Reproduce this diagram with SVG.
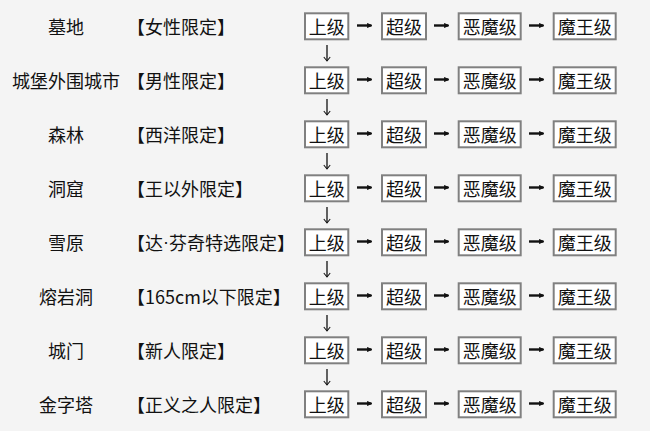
<svg xmlns="http://www.w3.org/2000/svg" width="650" height="431" viewBox="0 0 650 431">
<defs>
<style>
text{font-family:"Noto Sans CJK SC","Noto Sans",sans-serif;font-size:18px;fill:#111;dominant-baseline:central}
.c{text-anchor:middle}
.s{text-anchor:start}
.dot{font-family:"Liberation Sans",sans-serif}
.b{fill:#fff;stroke:#808080;stroke-width:2}
.a{stroke:#111;stroke-width:2.4;fill:none}
.d{stroke:#111;stroke-width:1.3;fill:none}
</style>
<marker id="ah" viewBox="0 0 6 6" refX="5" refY="3" markerWidth="2.2" markerHeight="2.2" markerUnits="strokeWidth" orient="auto"><path d="M0,0L6,3L0,6z" fill="#111"/></marker>
<marker id="dh" viewBox="0 0 10 10" refX="5" refY="9" markerWidth="8" markerHeight="8" markerUnits="userSpaceOnUse" orient="0"><path d="M1,4L5,9L9,4" fill="none" stroke="#111" stroke-width="1.3"/></marker>
<g id="chain">
<rect class="b" x="305" y="13.3" width="43.3" height="26"/>
<text class="c" x="326.7" y="26">上级</text>
<rect class="b" x="382" y="13.3" width="44" height="26"/>
<text class="c" x="404" y="26">超级</text>
<rect class="b" x="458.7" y="13.3" width="62" height="26"/>
<text class="c" x="489.7" y="26">恶魔级</text>
<rect class="b" x="553.7" y="13.3" width="62" height="26"/>
<text class="c" x="584.7" y="26">魔王级</text>
</g>
<g id="arrows">
<path class="a" d="M357,25.5H371.5" marker-end="url(#ah)"/>
<path class="a" d="M434,25.5H448.5" marker-end="url(#ah)"/>
<path class="a" d="M529,25.5H543.5" marker-end="url(#ah)"/>
</g>
<path id="down" class="d" d="M327,45V61" marker-end="url(#dh)"/>
</defs>
<rect width="650" height="431" fill="#f4f4f4"/>
<g id="row1"><text class="c" x="66" y="26">墓地</text><text class="s" x="127" y="26">【女性限定】</text><use href="#chain"/></g>
<g id="row2" transform="translate(0,54)"><text class="c" x="66" y="26">城堡外围城市</text><text class="s" x="127" y="26">【男性限定】</text><use href="#chain"/></g>
<g id="row3" transform="translate(0,108)"><text class="c" x="66" y="26">森林</text><text class="s" x="127" y="26">【西洋限定】</text><use href="#chain"/></g>
<g id="row4" transform="translate(0,162)"><text class="c" x="66" y="26">洞窟</text><text class="s" x="127" y="26">【王以外限定】</text><use href="#chain"/></g>
<g id="row5" transform="translate(0,216)"><text class="c" x="66" y="26">雪原</text><text class="s" x="127" y="26">【达<tspan class="dot">·</tspan>芬奇特选限定】</text><use href="#chain"/></g>
<g id="row6" transform="translate(0,270)"><text class="c" x="66" y="26">熔岩洞</text><text class="s" x="127" y="26">【165cm以下限定】</text><use href="#chain"/></g>
<g id="row7" transform="translate(0,324)"><text class="c" x="66" y="26">城门</text><text class="s" x="127" y="26">【新人限定】</text><use href="#chain"/></g>
<g id="row8" transform="translate(0,378)"><text class="c" x="66" y="26">金字塔</text><text class="s" x="127" y="26">【正义之人限定】</text><use href="#chain"/></g>
<g id="connectors">
<use href="#arrows"/><use href="#arrows" y="54"/><use href="#arrows" y="108"/><use href="#arrows" y="162"/><use href="#arrows" y="216"/><use href="#arrows" y="270"/><use href="#arrows" y="324"/><use href="#arrows" y="378"/>
<use href="#down"/><use href="#down" y="54"/><use href="#down" y="108"/><use href="#down" y="162"/><use href="#down" y="216"/><use href="#down" y="270"/><use href="#down" y="324"/>
</g>
</svg>
